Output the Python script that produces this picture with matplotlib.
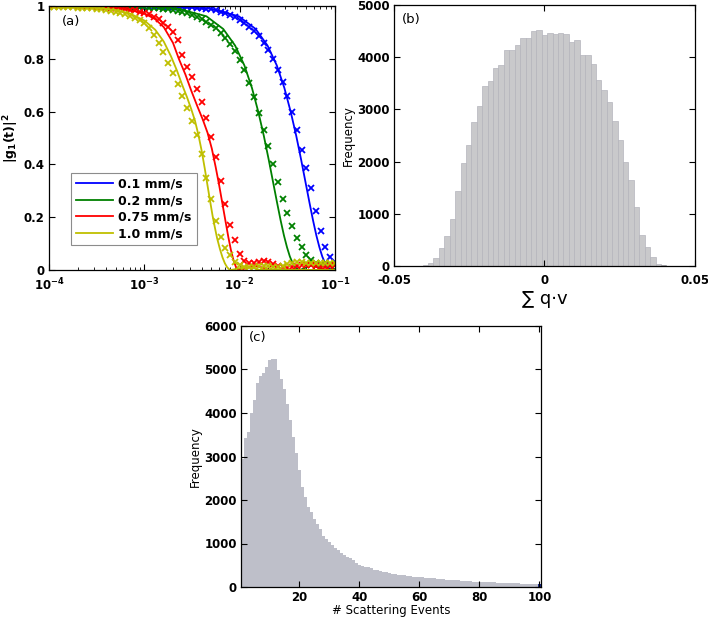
import numpy as np
import matplotlib
matplotlib.use("Agg")
import matplotlib.pyplot as plt

plt.rcParams["font.family"] = ["DejaVu Sans"]
plt.rcParams["font.weight"] = "bold"
plt.rcParams["font.size"] = 8.5
plt.rcParams["mathtext.fontset"] = "custom"
plt.rcParams["mathtext.rm"] = "DejaVu Sans:bold"
plt.rcParams["mathtext.bf"] = "DejaVu Sans:bold"
plt.rcParams["mathtext.it"] = "DejaVu Sans:bold:italic"

# ---- (a) measured |g1(t)|^2 (markers) on a common lag grid ----
lag = [1.000e-4, 1.122e-4, 1.259e-4, 1.413e-4, 1.585e-4, 1.778e-4, 1.995e-4, 2.239e-4, 2.512e-4, 2.818e-4,
       3.162e-4, 3.548e-4, 3.981e-4, 4.467e-4, 5.012e-4, 5.623e-4, 6.310e-4, 7.079e-4, 7.943e-4, 8.913e-4,
       1.000e-3, 1.122e-3, 1.259e-3, 1.413e-3, 1.585e-3, 1.778e-3, 1.995e-3, 2.239e-3, 2.512e-3, 2.818e-3,
       3.162e-3, 3.548e-3, 3.981e-3, 4.467e-3, 5.012e-3, 5.623e-3, 6.310e-3, 7.079e-3, 7.943e-3, 8.913e-3,
       1.000e-2, 1.122e-2, 1.259e-2, 1.413e-2, 1.585e-2, 1.778e-2, 1.995e-2, 2.239e-2, 2.512e-2, 2.818e-2,
       3.162e-2, 3.548e-2, 3.981e-2, 4.467e-2, 5.012e-2, 5.623e-2, 6.310e-2, 7.079e-2, 7.943e-2, 8.913e-2,
       1.000e-1]

meas_01 = [1.0, 1.0, 1.0, 1.0, 1.0, 1.0, 1.0, 1.0, 1.0, 1.0,
           1.0, 1.0, 0.999, 0.999, 0.999, 0.999, 0.999, 0.999, 0.998, 0.998,
           0.998, 0.998, 0.998, 0.997, 0.997, 0.997, 0.996, 0.996, 0.995, 0.995,
           0.995, 0.994, 0.992, 0.990, 0.987, 0.984, 0.979, 0.974, 0.967, 0.958,
           0.948, 0.936, 0.922, 0.905, 0.885, 0.861, 0.832, 0.798, 0.758, 0.712,
           0.660, 0.600, 0.530, 0.455, 0.385, 0.310, 0.225, 0.148, 0.088, 0.050,
           0.032]
meas_02 = [1.0, 1.0, 1.0, 1.0, 1.0, 0.999, 0.999, 0.999, 0.999, 0.999,
           0.998, 0.998, 0.998, 0.998, 0.997, 0.997, 0.997, 0.996, 0.996, 0.995,
           0.995, 0.994, 0.993, 0.991, 0.989, 0.987, 0.984, 0.981, 0.977, 0.972,
           0.966, 0.959, 0.951, 0.941, 0.929, 0.915, 0.898, 0.879, 0.857, 0.830,
           0.797, 0.757, 0.710, 0.655, 0.595, 0.532, 0.468, 0.400, 0.335, 0.270,
           0.215, 0.168, 0.123, 0.088, 0.058, 0.038, 0.028, 0.024, 0.025, 0.022,
           0.018]
meas_075 = [1.0, 1.0, 1.0, 1.0, 0.999, 0.999, 0.999, 0.998, 0.998, 0.997,
            0.997, 0.996, 0.995, 0.994, 0.993, 0.991, 0.989, 0.986, 0.983, 0.979,
            0.974, 0.968, 0.960, 0.950, 0.937, 0.920, 0.900, 0.870, 0.815, 0.770,
            0.730, 0.685, 0.635, 0.575, 0.505, 0.428, 0.338, 0.250, 0.172, 0.112,
            0.062, 0.035, 0.025, 0.028, 0.032, 0.033, 0.030, 0.024, 0.016, 0.010,
            0.008, 0.010, 0.014, 0.018, 0.020, 0.018, 0.015, 0.012, 0.013, 0.016,
            0.020]
meas_10 = [0.997, 0.997, 0.996, 0.996, 0.995, 0.995, 0.994, 0.993, 0.992, 0.991,
           0.990, 0.988, 0.985, 0.982, 0.978, 0.973, 0.968, 0.962, 0.955, 0.946,
           0.935, 0.915, 0.890, 0.860, 0.825, 0.785, 0.745, 0.705, 0.660, 0.615,
           0.565, 0.510, 0.440, 0.350, 0.270, 0.185, 0.125, 0.085, 0.055, 0.032,
           0.018, 0.012, 0.010, 0.012, 0.014, 0.015, 0.014, 0.012, 0.012, 0.016,
           0.022, 0.027, 0.030, 0.030, 0.028, 0.026, 0.025, 0.026, 0.028, 0.028,
           0.025]

# ---- (a) model curves ----
fit_t_01 = [1e-4, 0.0020, 0.0049, 0.0098, 0.0147, 0.0196, 0.0245, 0.0294, 0.0343, 0.0392, 0.0441,
            0.0490, 0.0539, 0.0588, 0.0637, 0.0686, 0.0735, 0.0784, 0.0833, 0.0882, 0.0938, 0.1]
fit_y_01 = [1.0, 0.998, 0.990, 0.961, 0.913, 0.850, 0.775, 0.690, 0.599, 0.508, 0.418,
            0.333, 0.256, 0.188, 0.131, 0.086, 0.051, 0.027, 0.011, 0.003, 0.0, 0.0015]
fit_t_02 = [1e-4, 0.00112, 0.00224, 0.00448, 0.00672, 0.00896, 0.0112, 0.01344, 0.01568, 0.01792,
            0.02016, 0.0224, 0.02464, 0.02688, 0.02912, 0.03136, 0.0336, 0.03584, 0.03808, 0.04032,
            0.0429, 0.0504, 0.0576, 0.0672, 0.0784, 0.0952, 0.1]
fit_y_02 = [1.0, 0.9975, 0.990, 0.961, 0.913, 0.850, 0.775, 0.690, 0.599, 0.508,
            0.418, 0.333, 0.256, 0.188, 0.131, 0.086, 0.051, 0.027, 0.011, 0.003,
            0.0, 0.0105, 0.0175, 0.0085, 0.0, 0.0041, 0.0032]
fit_t_075 = [1e-4, 3e-4, 6e-4, 0.001, 0.0013, 0.0016, 0.002, 0.0023, 0.0027, 0.0031, 0.0036,
             0.0041, 0.0046, 0.0051, 0.0056, 0.0061, 0.0066, 0.0071, 0.0076, 0.0081, 0.0086,
             0.0091, 0.0096, 0.0100, 0.0120, 0.0145, 0.0175, 0.0205, 0.1]
fit_y_075 = [1.0, 0.998, 0.99, 0.972, 0.95, 0.92, 0.86, 0.80, 0.74, 0.68, 0.62,
             0.57, 0.52, 0.46, 0.39, 0.32, 0.25, 0.185, 0.125, 0.075, 0.038,
             0.013, 0.002, 0.0, 0.008, 0.016, 0.009, 0.0, 0.0]
fit_t_10 = [1e-4, 3e-4, 5e-4, 7e-4, 0.001, 0.0013, 0.0016, 0.0019, 0.0022, 0.0025, 0.0028,
            0.0031, 0.0034, 0.0037, 0.004, 0.0043, 0.0046, 0.0049, 0.0052, 0.0055, 0.0058,
            0.0062, 0.0066, 0.007, 0.0074, 0.0078, 0.0081, 0.0095, 0.0115, 0.014, 0.016, 0.1]
fit_y_10 = [0.998, 0.993, 0.985, 0.972, 0.945, 0.91, 0.865, 0.81, 0.755, 0.70, 0.655,
            0.61, 0.565, 0.51, 0.45, 0.385, 0.32, 0.26, 0.205, 0.16, 0.12,
            0.08, 0.048, 0.025, 0.01, 0.002, 0.0, 0.005, 0.012, 0.008, 0.001, 0.0]

speed_labels = ["0.1 mm/s", "0.2 mm/s", "0.75 mm/s", "1.0 mm/s"]
speed_colors = ["#0000ff", "#008000", "#ff0000", "#bfbf00"]

# ---- (b) histogram of sum q.v ----
qv_start = -0.0405
qv_width = 0.0018
qv_counts = [10, 51, 153, 350, 573, 903, 1440, 1970, 2320, 2760, 3070, 3450, 3540, 3800, 3850,
             4130, 4130, 4240, 4360, 4370, 4500, 4520, 4430, 4470, 4440, 4470, 4450, 4300, 4330,
             4050, 4040, 3870, 3570, 3370, 3140, 2770, 2420, 2000, 1640, 1130, 600, 370, 180, 40, 20]

# ---- (c) histogram of number of scattering events ----
n_events = list(range(1, 101))
n_counts = [2950, 3420, 3560, 4000, 4300, 4680, 4850, 4920, 5050, 5220,
            5250, 5250, 4980, 4780, 4560, 4200, 3850, 3450, 3080, 2700,
            2300, 2080, 1850, 1720, 1560, 1440, 1340, 1180, 1100, 1030,
            960, 900, 840, 780, 730, 700, 660, 620, 560, 510,
            490, 470, 450, 430, 400, 380, 360, 350, 335, 320,
            305, 295, 280, 270, 265, 255, 245, 240, 235, 230,
            220, 215, 205, 200, 200, 190, 195, 180, 170, 160,
            155, 150, 155, 145, 140, 135, 130, 125, 120, 115,
            115, 112, 115, 108, 105, 100, 97, 94, 90, 88,
            86, 84, 82, 80, 78, 76, 74, 72, 70, 65]


def style_axes(ax):
    ax.tick_params(direction="in", top=True, right=True, length=4, width=0.8,
                   labelsize=8.5, pad=3)
    ax.tick_params(which="minor", direction="in", top=True, right=True, length=2, width=0.6)
    for s in ax.spines.values():
        s.set_linewidth(0.9)


def main():
    fig = plt.figure(figsize=(7.08, 6.25), dpi=100)

    # (a)
    ax_a = fig.add_axes([0.0692, 0.568, 0.404, 0.4224])
    measured = [meas_01, meas_02, meas_075, meas_10]
    fits = [(fit_t_01, fit_y_01), (fit_t_02, fit_y_02), (fit_t_075, fit_y_075), (fit_t_10, fit_y_10)]
    handles = []
    for m, (ft, fy), c in zip(measured, fits, speed_colors):
        ax_a.plot(lag, m, "x", color=c, markersize=4.5, markeredgewidth=1.3)
        h, = ax_a.plot(ft, fy, "-", color=c, linewidth=1.3)
        handles.append(h)
    ax_a.set_xscale("log")
    ax_a.set_xlim(1e-4, 1e-1)
    ax_a.set_ylim(0, 1)
    ax_a.set_xticks([1e-4, 1e-3, 1e-2, 1e-1])
    ax_a.set_xticklabels([r"$\mathbf{10^{-4}}$", r"$\mathbf{10^{-3}}$",
                          r"$\mathbf{10^{-2}}$", r"$\mathbf{10^{-1}}$"], fontsize=9)
    ax_a.set_yticks([0, 0.2, 0.4, 0.6, 0.8, 1])
    ax_a.set_yticklabels(["0", "0.2", "0.4", "0.6", "0.8", "1"])
    style_axes(ax_a)
    ax_a.tick_params(axis="x", pad=5)
    ax_a.set_ylabel(r"$\mathbf{|g_1(t)|^2}$", fontsize=9, labelpad=2)
    ax_a.text(0.045, 0.94, "(a)", transform=ax_a.transAxes, fontsize=9.5,
              fontweight="normal", va="center")
    leg = ax_a.legend(handles, speed_labels, loc="upper left", bbox_to_anchor=(0.055, 0.392),
                      fancybox=False, edgecolor="0.55", framealpha=1,
                      prop={"weight": "bold", "size": 9}, handlelength=3.0,
                      borderpad=0.4, labelspacing=0.28, handletextpad=0.4)
    leg.get_frame().set_linewidth(0.8)

    # (b)
    ax_b = fig.add_axes([0.5565, 0.5744, 0.4251, 0.4176])
    qv_centers = qv_start + qv_width * (np.arange(len(qv_counts)) + 0.5)
    bar_colors = ["#c9c9cb"] * (len(qv_counts) - 1) + ["#111111"]
    ax_b.bar(qv_centers, qv_counts, width=qv_width, color=bar_colors,
             edgecolor="#b4b4bc", linewidth=0.5)
    ax_b.set_xlim(-0.05, 0.05)
    ax_b.set_ylim(0, 5000)
    ax_b.set_xticks([-0.05, 0, 0.05])
    ax_b.set_xticklabels(["-0.05", "0", "0.05"])
    ax_b.set_yticks([0, 1000, 2000, 3000, 4000, 5000])
    style_axes(ax_b)
    ax_b.tick_params(axis="x", pad=6)
    ax_b.set_ylabel("Frequency", fontsize=8.5, labelpad=2)
    ax_b.set_xlabel("\u2211 q\u00b7v", fontsize=13, labelpad=2)
    ax_b.text(0.025, 0.945, "(b)", transform=ax_b.transAxes, fontsize=9.5,
              fontweight="normal", va="center")

    # (c)
    ax_c = fig.add_axes([0.3404, 0.0608, 0.4237, 0.4176])
    c_colors = ["#bebfc9"] * (len(n_counts) - 1) + ["#1a2a8a"]
    ax_c.bar(n_events, n_counts, width=1.0, color=c_colors, linewidth=0)
    ax_c.set_xlim(0.5, 100.5)
    ax_c.set_ylim(0, 6000)
    ax_c.set_xticks([20, 40, 60, 80, 100])
    ax_c.set_yticks([0, 1000, 2000, 3000, 4000, 5000, 6000])
    style_axes(ax_c)
    ax_c.set_ylabel("Frequency", fontsize=8.5, labelpad=2)
    ax_c.set_xlabel("# Scattering Events", fontsize=8.5, labelpad=0)
    ax_c.text(0.025, 0.955, "(c)", transform=ax_c.transAxes, fontsize=9.5,
              fontweight="normal", va="center")

    fig.savefig("out.png", dpi=100)


if __name__ == "__main__":
    main()
